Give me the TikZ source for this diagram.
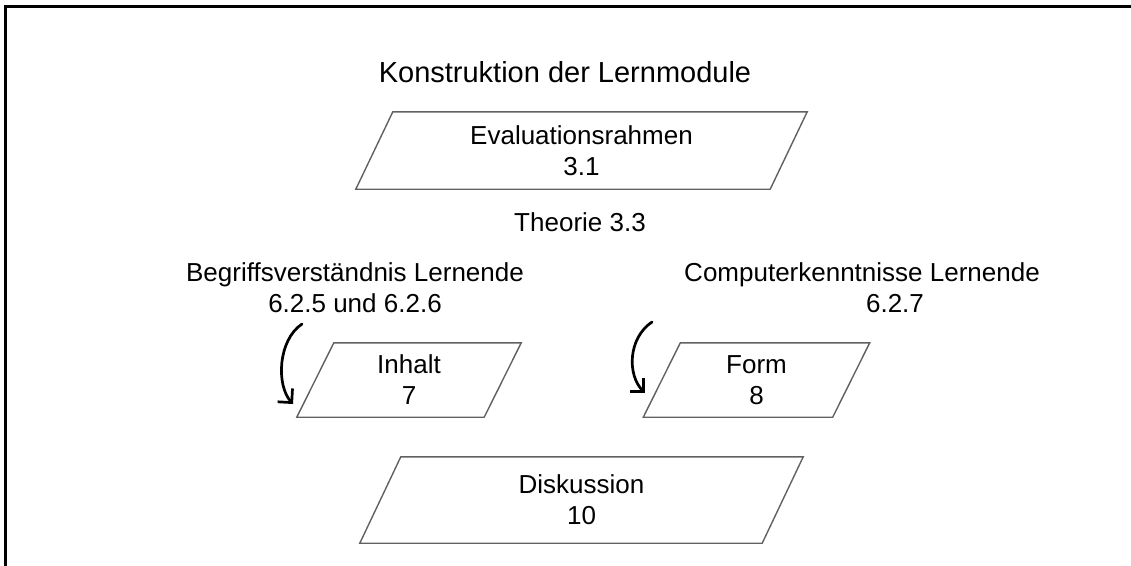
\documentclass[tikz,border=0pt]{standalone}
\usepackage{fontspec}
\setmainfont{Liberation Sans}
\usetikzlibrary{arrows.meta}

% parallelogram drawn around a (borderless) node: #1 node name, #2 half slant
\newcommand\paraframe[2]{%
  \draw[paraline] ([xshift=#2]#1.north west) -- ([xshift=#2]#1.north east)
    -- ([xshift=-#2]#1.south east) -- ([xshift=-#2]#1.south west) -- cycle;}

\begin{document}
\begin{tikzpicture}[x=1pt,y=-1pt,
  boxtext/.style={font=\fontsize{26}{31}\selectfont, align=center, inner sep=0pt},
  titletext/.style={font=\fontsize{29}{34}\selectfont, inner sep=0pt},
  frameline/.style={line width=3pt, line cap=rect},
  paraline/.style={draw=black!62, line width=1.4pt, line join=miter},
  bendarrow/.style={line width=2.7pt, line cap=round,
    -{Straight Barb[length=10pt,width=20pt,line width=2.7pt]}}
]
\useasboundingbox (0,0) rectangle (1131,565);

% outer frame (only left and top edges fall inside the page)
\draw[frameline] (5,570) -- (5,6.5) -- (1140,6.5);

% title
\node[titletext] (title) at (565,72) {Konstruktion der Lernmodule};

% evaluation frame
\node[boxtext, minimum width=414pt, minimum height=77pt] (eval) at (581.5,150.5)
  {Evaluationsrahmen\\3.1};
\paraframe{eval}{18.5pt}

\node[boxtext] (theorie) at (580,222) {Theorie 3.3};

% learner prerequisites
\node[boxtext] (begriff) at (355,288) {Begriffsverständnis Lernende\\6.2.5 und 6.2.6};
\node[boxtext] (computer) at (862,288) {Computerkenntnisse Lernende\\\hspace*{66pt}6.2.7};

% module parts
\node[boxtext, minimum width=187pt, minimum height=74pt] (inhalt) at (409,380)
  {Inhalt\\7};
\paraframe{inhalt}{18.5pt}
\node[boxtext, minimum width=189pt, minimum height=74pt] (form) at (756.5,380)
  {Form\\8};
\paraframe{form}{18.5pt}

% discussion
\node[boxtext, minimum width=402pt, minimum height=86pt] (disk) at (581.5,500)
  {Diskussion\\10};
\paraframe{disk}{20.5pt}

% curved arrows from the prerequisites into the module parts
\coordinate (la0) at (302,324);
\coordinate (la1) at (293,404);
\coordinate (ra0) at (652,322);
\coordinate (ra1) at (645,393);
\draw[bendarrow] (la0) .. controls (278,340) and (276,385) .. (la1);
\draw[bendarrow] (ra0) .. controls (628,338) and (627,375) .. (ra1);
\end{tikzpicture}
\end{document}
